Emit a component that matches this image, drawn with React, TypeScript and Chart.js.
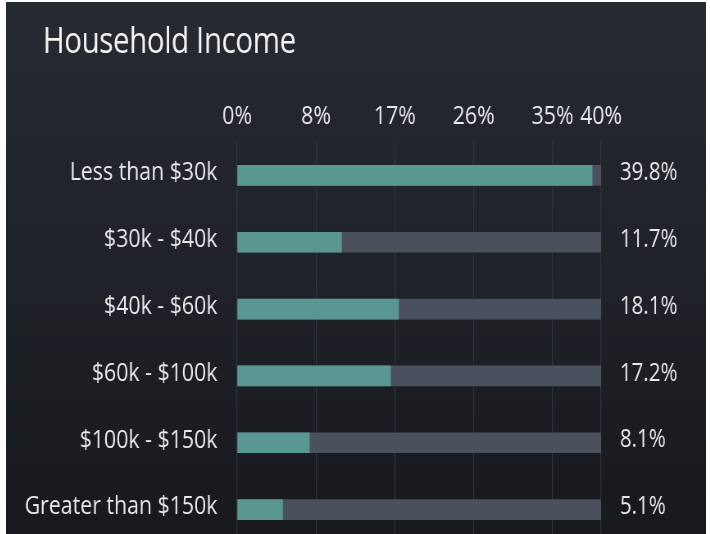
import React, { useEffect, useRef } from 'react';
import { Chart, registerables } from 'chart.js';

Chart.register(...registerables);

const titleText = 'Household Income';
const categories = ['Less than $30k', '$30k - $40k', '$40k - $60k', '$60k - $100k', '$100k - $150k', 'Greater than $150k'];
const values = [39.8, 11.7, 18.1, 17.2, 8.1, 5.1];
const valueLabels = ['39.8%', '11.7%', '18.1%', '17.2%', '8.1%', '5.1%'];
const axisMax = 40.8;
const trackValues = [40.8, 40.8, 40.8, 40.8, 40.8, 40.8];
const tickValues = [0, 8.84, 17.68, 26.52, 35.36, 40.8];
const tickLabels = ['0%', '8%', '17%', '26%', '35%', '40%'];

const FONT = "'Open Sans', 'Noto Sans', sans-serif";
const TEXT = '#e8e9eb';
// the chart is laid out on a wider canvas and squeezed horizontally (condensed look)
const LOGICAL_W = 854;
const LOGICAL_H = 541;
const SQUEEZE = 700 / LOGICAL_W;

const titlePlugin = {
  id: 'leftTitle',
  afterDraw(chart: any) {
    const ctx = chart.ctx;
    ctx.save();
    ctx.font = `36px ${FONT}`;
    ctx.fillStyle = '#f3f3f3';
    ctx.textAlign = 'left';
    ctx.textBaseline = 'alphabetic';
    try {
      ctx.letterSpacing = '-0.5px';
    } catch (e) {
      /* ignore */
    }
    ctx.fillText(titleText, 45, 50.5);
    ctx.restore();
  },
};

export default function App() {
  const ref = useRef<HTMLCanvasElement | null>(null);

  useEffect(() => {
    if (!ref.current) return;
    const chart = new Chart(ref.current, {
      type: 'bar',
      data: {
        labels: categories,
        datasets: [
          {
            label: 'Share',
            data: values,
            backgroundColor: '#5a9791',
            borderWidth: 0,
            barThickness: 20,
            grouped: false,
            order: 0,
          },
          {
            label: 'Track',
            data: trackValues,
            backgroundColor: '#4a505c',
            borderWidth: 0,
            barThickness: 20,
            grouped: false,
            order: 1,
          },
        ],
      },
      plugins: [titlePlugin],
      options: {
        indexAxis: 'y',
        animation: false,
        responsive: false,
        layout: { padding: { left: 0, right: 18, top: 100, bottom: 0 } },
        plugins: {
          legend: { display: false },
          tooltip: { enabled: false },
          title: { display: false },
        },
        scales: {
          x: {
            position: 'top',
            min: 0,
            max: axisMax,
            border: { display: false },
            grid: { color: '#30353d', lineWidth: 1.2, drawTicks: false },
            afterBuildTicks: (scale: any) => {
              scale.ticks = tickValues.map((v) => ({ value: v }));
            },
            afterFit: (scale: any) => {
              scale.height = 40;
            },
            ticks: {
              padding: 10,
              color: TEXT,
              font: { family: FONT, size: 26 },
              maxRotation: 0,
              autoSkip: false,
              callback: (_v: any, i: number) => tickLabels[i],
            },
          },
          y: {
            position: 'left',
            border: { display: false },
            grid: { display: false, drawTicks: false },
            afterFit: (scale: any) => {
              scale.width = 282;
              scale.paddingTop = 0;
              scale.paddingBottom = 0;
            },
            ticks: {
              padding: 24,
              labelOffset: -2.5,
              color: TEXT,
              font: { family: FONT, size: 26 },
            },
          },
          y2: {
            type: 'category',
            position: 'right',
            labels: valueLabels,
            offset: true,
            border: { display: false },
            grid: { display: false, drawTicks: false },
            afterFit: (scale: any) => {
              scale.width = 110;
              scale.paddingTop = 0;
              scale.paddingBottom = 0;
            },
            ticks: {
              padding: 23,
              labelOffset: -2.5,
              color: TEXT,
              font: { family: FONT, size: 25 },
            },
          },
        },
      },
    });
    return () => chart.destroy();
  }, []);

  return (
    <div
      style={{
        position: 'absolute',
        left: 6,
        top: 2,
        width: 700,
        height: 532,
        overflow: 'hidden',
        background: 'linear-gradient(to bottom, #262a31 0%, #1f2228 50%, #17191d 100%)',
      }}
    >
      <div
        style={{
          width: LOGICAL_W,
          height: LOGICAL_H,
          transform: `scaleX(${SQUEEZE})`,
          transformOrigin: '0 0',
        }}
      >
        <canvas ref={ref} width={LOGICAL_W} height={LOGICAL_H} style={{ display: 'block' }} />
      </div>
    </div>
  );
}
